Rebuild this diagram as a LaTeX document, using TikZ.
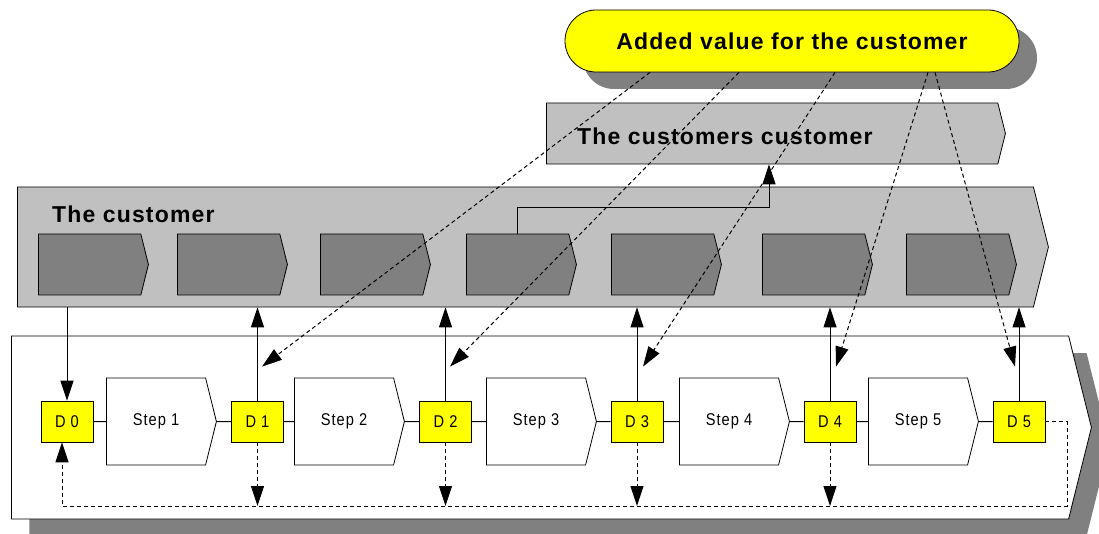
\documentclass[tikz,border=0pt]{standalone}
\usepackage{fontspec}
\setmainfont{Liberation Sans}
\newfontfamily\titlefont[LetterSpace=5]{Liberation Sans}
\newfontfamily\boxfont[LetterSpace=6, FakeStretch=0.86]{Liberation Sans}
\usetikzlibrary{arrows.meta, shapes.symbols, shapes.misc, shadows, calc}

\definecolor{cyell}{RGB}{255,255,0}
\definecolor{csilver}{RGB}{192,192,192}
\definecolor{cdark}{RGB}{128,128,128}

\tikzstyle{title}=[font={\titlefont\bfseries\fontsize{23}{27}\selectfont}, inner sep=0pt]
\tikzstyle{arrowbox}=[signal, signal to=east, signal pointer angle=152, draw=black, line width=0.8pt, inner sep=0pt, anchor=west]
\tikzstyle{stage}=[arrowbox, fill=cdark, minimum width=110pt, minimum height=61pt]
\tikzstyle{stepbox}=[arrowbox, fill=white, minimum width=110pt, minimum height=87pt, font={\boxfont\fontsize{17}{20}\selectfont}]
\tikzstyle{dec}=[draw, line width=0.8pt, fill=cyell, minimum width=52pt, minimum height=41pt, inner sep=0pt, font={\boxfont\fontsize{17}{20}\selectfont}]
\tikzstyle{shade}=[drop shadow={shadow xshift=18pt, shadow yshift=-17pt, opacity=1, fill=cdark}]
\tikzstyle{msg}=[-{Triangle[length=20pt,width=13pt]}, line width=1pt]
\tikzstyle{dmsg}=[msg, dash pattern=on 4pt off 3pt]
\tikzstyle{link}=[line width=1pt]

\begin{document}
\begin{tikzpicture}[x=1pt, y=-1pt]
    \useasboundingbox (0,0) rectangle (1099,534);
    \node[arrowbox, fill=white, shade, minimum width=1080pt, minimum height=183pt] (proc) at (11,427.5) {};
    \node[arrowbox, fill=csilver, minimum width=1031pt, minimum height=120pt] (cust) at (17,247) {};
    \node[arrowbox, fill=csilver, minimum width=459pt, minimum height=61pt] (custcust) at (546,133.5) {};
    \node[rounded rectangle, draw, line width=0.8pt, fill=cyell, shade, minimum width=454pt, minimum height=62pt, title] (added) at (792,41) {Added value for the customer};
    \node[title, anchor=base west] (custlabel) at (52,223) {The customer};
    \node[title, anchor=base west] (custcustlabel) at (577,145) {The customers customer};
    \foreach \x [count=\i] in {38,177,320,466,611,762,906}
      \node[stage] (c\i) at (\x,264.5) {};
    \foreach \x [count=\i] in {106,294,486,679,868}
      \node[stepbox] (s\i) at (\x,421.5) {Step \i};
    \foreach \x [count=\i from 0] in {67,257.5,445.5,637,830,1019}
      \node[dec] (d\i) at (\x,421.5) {D \i};
    \coordinate (loopr) at (1067,506);
    \coordinate (loopl) at (62,506);
    \coordinate (turn) at (769,208);
    \foreach \i in {1,...,5} {
      \pgfmathtruncatemacro\j{\i-1}
      \draw[link] (d\j) -- (s\i);
      \draw[link] (s\i) -- (d\i);
    }
    \draw[msg] (d0 |- cust.south) -- (d0);
    \foreach \i in {1,...,5}
      \draw[msg] (d\i) -- (d\i |- cust.south);
    \draw[msg] (c4.north) |- (turn) -- (turn |- custcust.south);
    \draw[dmsg] (d5) -| (loopr) -- (loopl) -- (loopl |- d0.south);
    \foreach \i in {1,...,4}
      \draw[dmsg] (d\i) -- (d\i |- loopl);
    \foreach \dx/\i/\ex in {-142/1/4.5, -53/2/4.5, 43/3/6, 136/4/6, 143/5/-4}
      \draw[dmsg] ($(added.south)+(\dx,0)$) -- ($(d\i.north)+(\ex,-34)$);
\end{tikzpicture}
\end{document}
